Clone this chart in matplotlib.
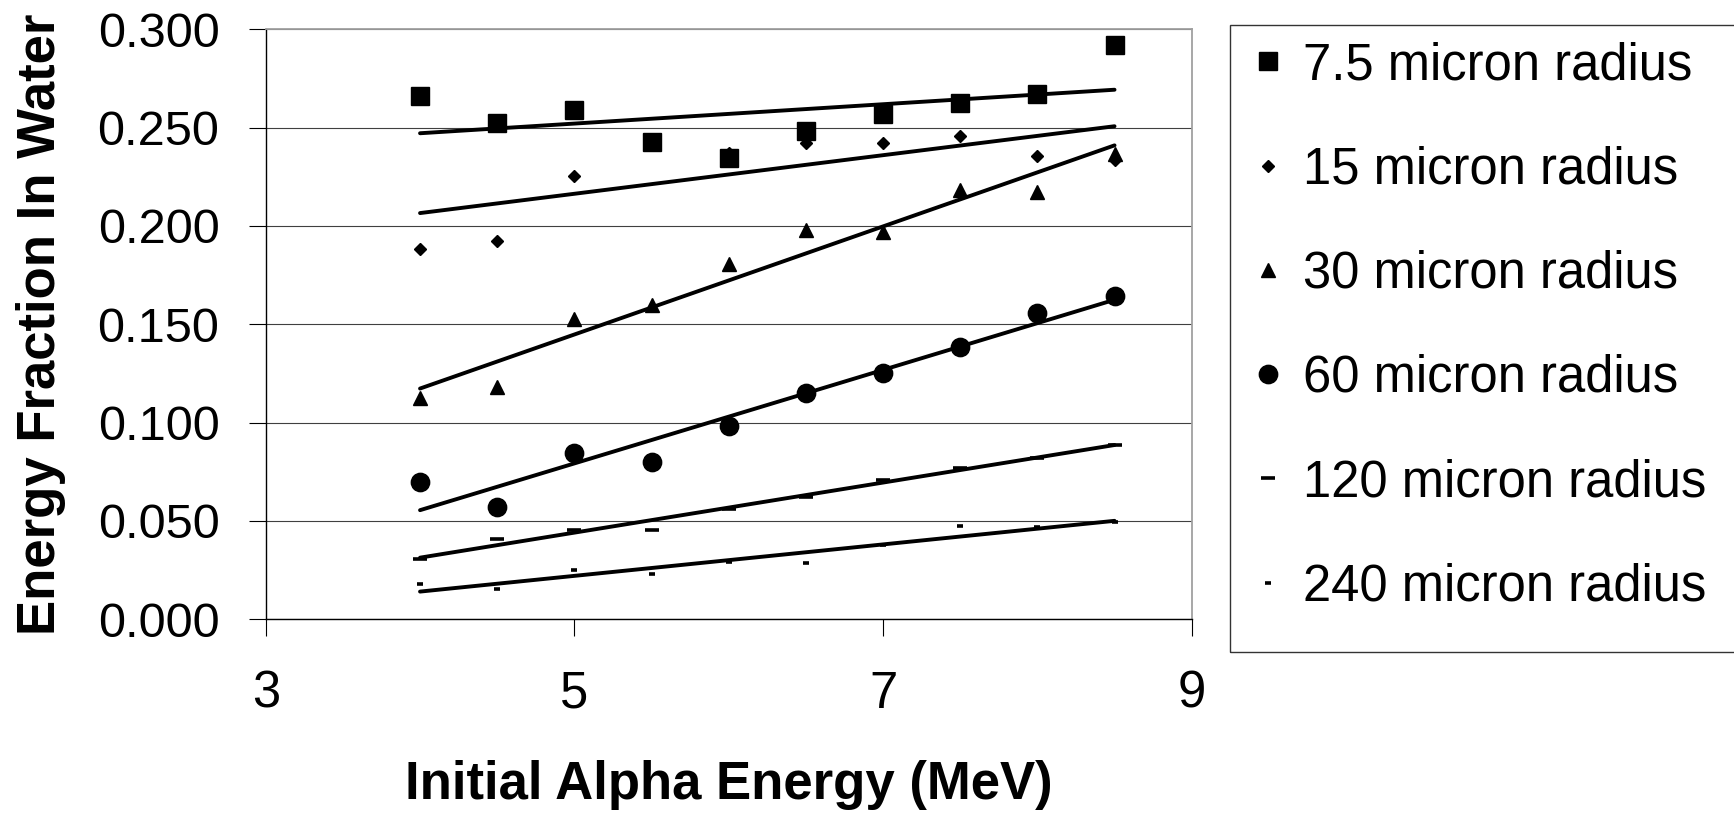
import numpy as np
import matplotlib
matplotlib.use("Agg")
import matplotlib.pyplot as plt
from matplotlib.ticker import FormatStrFormatter
from matplotlib.patches import Rectangle

plt.rcParams['font.family'] = ['Liberation Sans', 'DejaVu Sans']

# ---- data ----
energy = [4.0, 4.5, 5.0, 5.5, 6.0, 6.5, 7.0, 7.5, 8.0, 8.5]
r7_5 = [0.2660, 0.2526, 0.2592, 0.2429, 0.2348, 0.2485, 0.2567, 0.2623, 0.2673, 0.2918]
r15 = [0.1884, 0.1923, 0.2256, 0.2440, 0.2370, 0.2421, 0.2421, 0.2455, 0.2357, 0.2336]
r30 = [0.1127, 0.1183, 0.1527, 0.1599, 0.1806, 0.1980, 0.1968, 0.2184, 0.2175, 0.2367]
r60 = [0.0700, 0.0573, 0.0848, 0.0799, 0.0985, 0.1153, 0.1251, 0.1387, 0.1556, 0.1646]
r120 = [0.0308, 0.0407, 0.0456, 0.0456, 0.0560, 0.0624, 0.0710, 0.0768, 0.0822, 0.0887]
r240 = [0.0181, 0.0153, 0.0251, 0.0230, 0.0290, 0.0288, 0.0376, 0.0475, 0.0468, 0.0496]
labels = ["7.5 micron radius", "15 micron radius", "30 micron radius",
          "60 micron radius", "120 micron radius", "240 micron radius"]
x_ticks = [3, 5, 7, 9]
y_ticks = [0.0, 0.05, 0.10, 0.15, 0.20, 0.25, 0.30]

series = [r7_5, r15, r30, r60, r120, r240]
styles = [
    dict(marker='s', ms=12.6),
    dict(marker='D', ms=6.4),
    dict(marker='^', ms=9.8),
    dict(marker='o', ms=13.2),
    dict(marker='_', ms=9.4, mew=2.6),
    dict(marker='_', ms=5.0, mew=2.6),
]

W, H = 1734, 823
fig = plt.figure(figsize=(W / 100, H / 100), dpi=100)
L, R, T, B = 265.7, 1191.7, 29.3, 619.3
ax = fig.add_axes([L / W, 1 - B / H, (R - L) / W, (B - T) / H])

x = np.array(energy)
for ys, st, lab in zip(series, styles, labels):
    ys = np.array(ys)
    ax.plot(x, ys, linestyle='none', color='black', mfc='black', mec='black',
            label=lab, zorder=3, **st)
for ys in series:
    c = np.polyfit(x, np.array(ys), 1)
    xe = np.array([x[0], x[-1]])
    ax.plot(xe, np.polyval(c, xe), color='black', lw=2.8, zorder=4,
            solid_capstyle='round')

ax.set_xlim(3, 9)
ax.set_ylim(0, 0.3)
ax.set_xticks(x_ticks)
ax.set_yticks(y_ticks)
ax.yaxis.set_major_formatter(FormatStrFormatter('%.3f'))
ax.grid(axis='y', color='#404040', lw=0.8, zorder=1)
ax.set_axisbelow(True)

ax.tick_params(axis='both', direction='out', length=12.3, width=0.8, color='black')
ax.tick_params(axis='x', labelsize=36.5, pad=24)
ax.tick_params(axis='y', labelsize=35, pad=21)

for s in ['top', 'right']:
    ax.spines[s].set_color('#a0a0a0')
    ax.spines[s].set_linewidth(1.3)
for s in ['left', 'bottom']:
    ax.spines[s].set_color('black')
    ax.spines[s].set_linewidth(1.0)

ax.set_xlabel("Initial Alpha Energy (MeV)", fontsize=38, fontweight='bold')
ax.set_ylabel("Energy Fraction In Water", fontsize=38, fontweight='bold')
ax.xaxis.set_label_coords(0.5, (B - 760) / (B - T))
ax.yaxis.set_label_coords((66 - L) / (R - L), 0.5)

leg = ax.legend(loc='upper left', bbox_to_anchor=(1253.4 / W, 1 - 41 / H),
                bbox_transform=fig.transFigure, frameon=False, fontsize=36.5,
                borderpad=0, borderaxespad=0, handlelength=0.58,
                handletextpad=0.4, labelspacing=1.09, numpoints=1)

fig.add_artist(Rectangle((1230 / W, 1 - 652 / H), (1800 - 1230) / W, (652 - 25) / H,
                         transform=fig.transFigure, fill=False,
                         edgecolor='#333333', lw=1.0))

fig.savefig("out.png", dpi=100)
